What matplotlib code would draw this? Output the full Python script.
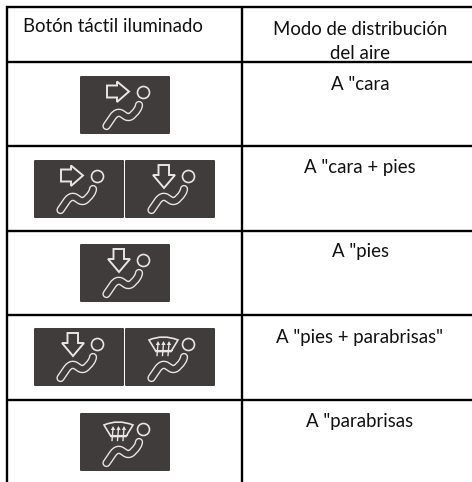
import matplotlib
matplotlib.use("Agg")
import matplotlib.pyplot as plt
from matplotlib.patches import FancyBboxPatch, Polygon, Circle
from matplotlib.path import Path
from matplotlib.patches import PathPatch

headers = ["Botón táctil iluminado", "Modo de distribución\ndel aire"]
modes = ['A "cara', 'A "cara + pies', 'A "pies', 'A "pies + parabrisas"', 'A "parabrisas']
row_icons = [["cara"], ["cara", "pies"], ["pies"], ["pies", "para"], ["para"]]

W, H = 472, 482
INK = "#3f3c3b"
LINE = "#e6e6e4"
row_lines = [7, 62, 146, 231, 315, 400]
box_tops = [76, 160, 244, 328, 413]
text_y = [84, 168, 252, 337, 421]
col_x = 242
BOX_W, BOX_H = 90, 58

fig = plt.figure(figsize=(W / 100, H / 100), dpi=100)
ax = fig.add_axes([0, 0, 1, 1])
ax.set_xlim(0, W)
ax.set_ylim(H, 0)
ax.axis("off")

FONT = "Lato"
SIZE = 13.4


def seat(x, y):
    rel = [(26.5, 50), (33, 40.5), (37, 35), (41.5, 37.5), (46, 40.5), (50, 42.5), (53.5, 38), (58.5, 33.5), (59, 29)]
    pts = [(x + a, y + b) for a, b in rel]
    codes = [Path.MOVETO, Path.LINETO, Path.CURVE3, Path.CURVE3, Path.LINETO, Path.CURVE3, Path.CURVE3, Path.CURVE3, Path.CURVE3]
    p = Path(pts, codes)
    ax.add_patch(PathPatch(p, fc="none", ec=LINE, lw=6.0, capstyle="round", joinstyle="round", zorder=3))
    ax.add_patch(PathPatch(p, fc="none", ec=INK, lw=4.0, capstyle="round", joinstyle="round", zorder=4))


def head(x, y):
    ax.add_patch(Circle((x + 63.5, y + 16.5), 6.0, fc="none", ec=LINE, lw=1.2, zorder=4))


def arrow_right(x, y):
    pts = [(27, 9.5), (37, 9.5), (37, 5.5), (49, 15.5), (37, 26), (37, 21.5), (27, 21.5)]
    ax.add_patch(Polygon([(x + a, y + b) for a, b in pts], closed=True, fc="none", ec=LINE, lw=1.4, zorder=4))


def arrow_down(x, y):
    pts = [(33.5, 5), (44, 5), (44, 15), (50, 15), (39, 28), (28, 15), (33.5, 15)]
    ax.add_patch(Polygon([(x + a, y + b) for a, b in pts], closed=True, fc="none", ec=LINE, lw=1.4, zorder=5))


def defrost(x, y):
    verts = [(x + 24, y + 12), (x + 38, y + 6), (x + 53, y + 12), (x + 46, y + 23.5), (x + 31, y + 23.5), (x + 24, y + 12)]
    codes = [Path.MOVETO, Path.CURVE3, Path.CURVE3, Path.LINETO, Path.LINETO, Path.CLOSEPOLY]
    ax.add_patch(PathPatch(Path(verts, codes), fc="none", ec=LINE, lw=1.2, zorder=4))
    for ox in (33, 38.5, 44):
        ax.plot([x + ox, x + ox - 1], [y + 15.5, y + 27.5], color=LINE, lw=1.0, zorder=5)
        ax.add_patch(Polygon([(x + ox, y + 13), (x + ox - 2.2, y + 17), (x + ox + 2.2, y + 17)], closed=True, fc=LINE, ec="none", zorder=5))
    ax.plot([x + 30, x + 47], [y + 22, y + 22], color=LINE, lw=0.8, zorder=5)


SYMBOLS = {"cara": arrow_right, "pies": arrow_down, "para": defrost}


def icon(x, y, kind):
    ax.add_patch(FancyBboxPatch((x + 0.8, y + 0.8), BOX_W - 1.6, BOX_H - 1.6,
                                boxstyle="round,pad=0.8,rounding_size=1.2", fc=INK, ec="none", zorder=2))
    head(x, y)
    seat(x, y)
    SYMBOLS[kind](x, y)


for yy in row_lines:
    ax.plot([6, W], [yy, yy], color="black", lw=1.7, solid_capstyle="butt", zorder=1)
ax.plot([7, 7], [6, H], color="black", lw=1.7, solid_capstyle="butt", zorder=1)
ax.plot([col_x, col_x], [6, H], color="black", lw=1.7, solid_capstyle="butt", zorder=1)

ax.text(113, 27, headers[0], ha="center", va="center", fontsize=SIZE, family=FONT, color="#111111")
ax.text(360, 41.5, headers[1], ha="center", va="center", fontsize=SIZE, family=FONT, color="#111111", linespacing=1.5)

for kinds, top, label, ty in zip(row_icons, box_tops, modes, text_y):
    if len(kinds) == 1:
        icon(80, top, kinds[0])
    else:
        icon(34, top, kinds[0])
        icon(125, top, kinds[1])
    ax.text(360, ty, label, ha="center", va="center", fontsize=SIZE, family=FONT, color="#111111")

fig.savefig("out.png", dpi=100, facecolor="white")
